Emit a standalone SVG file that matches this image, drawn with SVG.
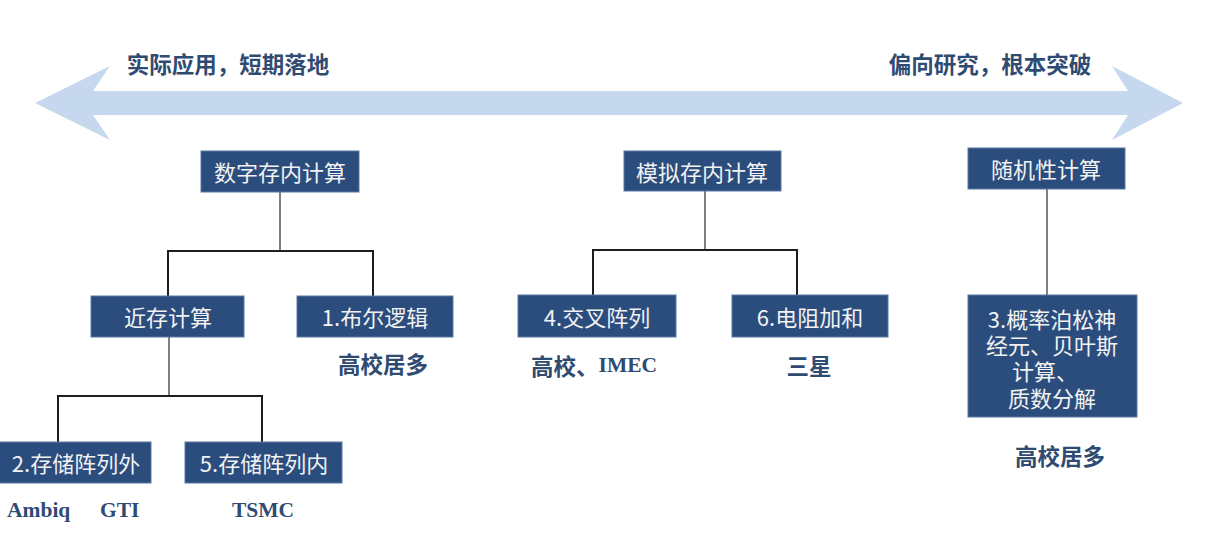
<svg xmlns="http://www.w3.org/2000/svg" width="1206" height="536" viewBox="0 0 1206 536">
<style>
.box{fill:#2b4d7d;stroke:#5a7aa5;stroke-width:1}
.bt{font-family:"Noto Sans CJK SC","Noto Sans",sans-serif;font-size:22px;fill:#f2f2f2;text-anchor:middle;dominant-baseline:central}
.lb{font-family:"Noto Sans CJK SC","Noto Sans",sans-serif;font-size:22.5px;font-weight:bold;fill:#2f4b72;text-anchor:middle;dominant-baseline:central}
.en{font-family:"Liberation Serif","Times New Roman",serif;font-size:21.5px;font-weight:bold;fill:#2f4b72}
.g{stroke:#7f7f7f;stroke-width:2;fill:none}
.k{stroke:#1e1e1e;stroke-width:2;fill:none}
</style>
<rect width="1206" height="536" fill="#ffffff"/>
<g id="axis">
<polygon points="35,103 110,66 93,91 1128,91 1112,66 1183,103 1112,140 1128,115 93,115 110,140" fill="#c5d8ee"/>
<text class="lb" x="228" y="63">实际应用，短期落地</text>
<text class="lb" x="990" y="63">偏向研究，根本突破</text>
</g>
<g id="connectors">
<line class="g" x1="280" y1="192" x2="280" y2="251"/>
<polyline class="k" points="168,296 168,251 373,251 373,296"/>
<line class="g" x1="169" y1="337" x2="169" y2="396"/>
<polyline class="k" points="58,442 58,396 262,396 262,442"/>
<line class="g" x1="705" y1="191" x2="705" y2="250"/>
<polyline class="k" points="593,295 593,250 797,250 797,295"/>
<line class="g" x1="1047" y1="189" x2="1047" y2="295"/>
</g>
<g id="n-digital"><rect class="box" x="201" y="151" width="158" height="41"/><text class="bt" x="280" y="171">数字存内计算</text></g>
<g id="n-near"><rect class="box" x="91" y="296" width="153" height="41"/><text class="bt" x="168" y="316">近存计算</text></g>
<g id="n-bool"><rect class="box" x="297" y="296" width="156" height="41"/><text class="bt" x="375" y="316">1.布尔逻辑</text></g>
<g id="l-bool"><text class="lb" x="383" y="363">高校居多</text></g>
<g id="n-outside"><rect class="box" x="-1" y="442" width="152" height="41"/><text class="bt" x="76" y="462">2.存储阵列外</text></g>
<g id="n-inside"><rect class="box" x="185" y="442" width="157" height="41"/><text class="bt" x="264" y="462">5.存储阵列内</text></g>
<g id="l-outside"><text class="en" x="7" y="517">Ambiq</text><text class="en" x="100" y="517">GTI</text></g>
<g id="l-inside"><text class="en" x="232" y="517">TSMC</text></g>
<g id="n-analog"><rect class="box" x="624" y="151" width="157" height="40"/><text class="bt" x="702" y="171">模拟存内计算</text></g>
<g id="n-cross"><rect class="box" x="518" y="295" width="158" height="42"/><text class="bt" x="597" y="316">4.交叉阵列</text></g>
<g id="l-cross"><text class="lb" x="531" y="365" style="text-anchor:start">高校、<tspan class="en">IMEC</tspan></text></g>
<g id="n-resist"><rect class="box" x="732" y="295" width="156" height="42"/><text class="bt" x="810" y="316">6.电阻加和</text></g>
<g id="l-resist"><text class="lb" x="809" y="365">三星</text></g>
<g id="n-random"><rect class="box" x="968" y="148" width="157" height="41"/><text class="bt" x="1046" y="168">随机性计算</text></g>
<g id="n-prob"><rect class="box" x="968" y="295" width="169" height="122"/>
<text class="bt" x="1052" y="318">3.概率泊松神</text>
<text class="bt" x="1052" y="344">经元、贝叶斯</text>
<text class="bt" x="1045" y="370">计算、</text>
<text class="bt" x="1052" y="397">质数分解</text></g>
<g id="l-prob"><text class="lb" x="1060" y="455">高校居多</text></g>
</svg>
